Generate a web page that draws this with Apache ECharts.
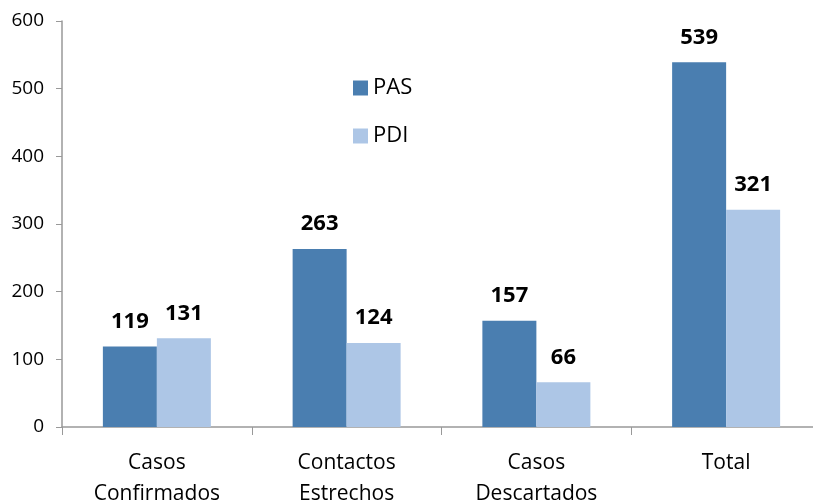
<!DOCTYPE html>
<html>
<head>
<meta charset="utf-8">
<script src="https://cdn.jsdelivr.net/npm/echarts@6/dist/echarts.min.js"></script>
<style>
  html, body { margin: 0; padding: 0; background: #fff; }
  #chart { width: 813px; height: 503px; }
</style>
</head>
<body>
<div id="chart"></div>
<script>
// datos del gráfico
let categorias = ["Casos\nConfirmados", "Contactos\nEstrechos", "Casos\nDescartados", "Total"];
let pas = [119, 263, 157, 539];
let pdi = [131, 124, 66, 321];

let fuente = "'Open Sans', 'Noto Sans', sans-serif";

let chart = echarts.init(document.getElementById("chart"));

let etiqueta = {
    show: true,
    position: "top",
    distance: 14,
    color: "#000",
    fontSize: 22,
    fontWeight: "bold",
    fontFamily: fuente
};

let option = {
    animation: false,
    grid: {
        left: 62,
        top: 21,
        width: 759,
        height: 406,
        containLabel: false,
        outerBoundsMode: "none"
    },
    legend: {
        orient: "vertical",
        left: 348,
        top: 72,
        itemWidth: 15,
        itemHeight: 15,
        itemGap: 26,
        icon: "rect",
        textStyle: { fontSize: 22, lineHeight: 22, color: "#000", fontFamily: fuente },
        data: ["PAS", "PDI"]
    },
    xAxis: {
        type: "category",
        data: categorias,
        axisLine: { lineStyle: { color: "#999", width: 1.5 } },
        axisTick: { show: true, length: 8, lineStyle: { color: "#999" } },
        axisLabel: {
            color: "#000",
            fontSize: 21,
            fontFamily: fuente,
            margin: 21,
            lineHeight: 31,
            interval: 0
        }
    },
    yAxis: {
        type: "value",
        min: 0,
        max: 600,
        interval: 100,
        axisLine: { show: true, lineStyle: { color: "#999", width: 1.5 } },
        axisTick: { show: true, length: 6, lineStyle: { color: "#999" } },
        splitLine: { show: false },
        axisLabel: { color: "#000", fontSize: 19, fontFamily: fuente, margin: 18 }
    },
    series: [
        {
            name: "PAS",
            type: "bar",
            data: pas,
            barWidth: 54,
            barGap: "0%",
            itemStyle: { color: "#4a7eb0" },
            label: etiqueta
        },
        {
            name: "PDI",
            type: "bar",
            data: pdi,
            barWidth: 54,
            itemStyle: { color: "#adc6e6" },
            label: etiqueta
        }
    ]
};
chart.setOption(option);
</script>
</body>
</html>
